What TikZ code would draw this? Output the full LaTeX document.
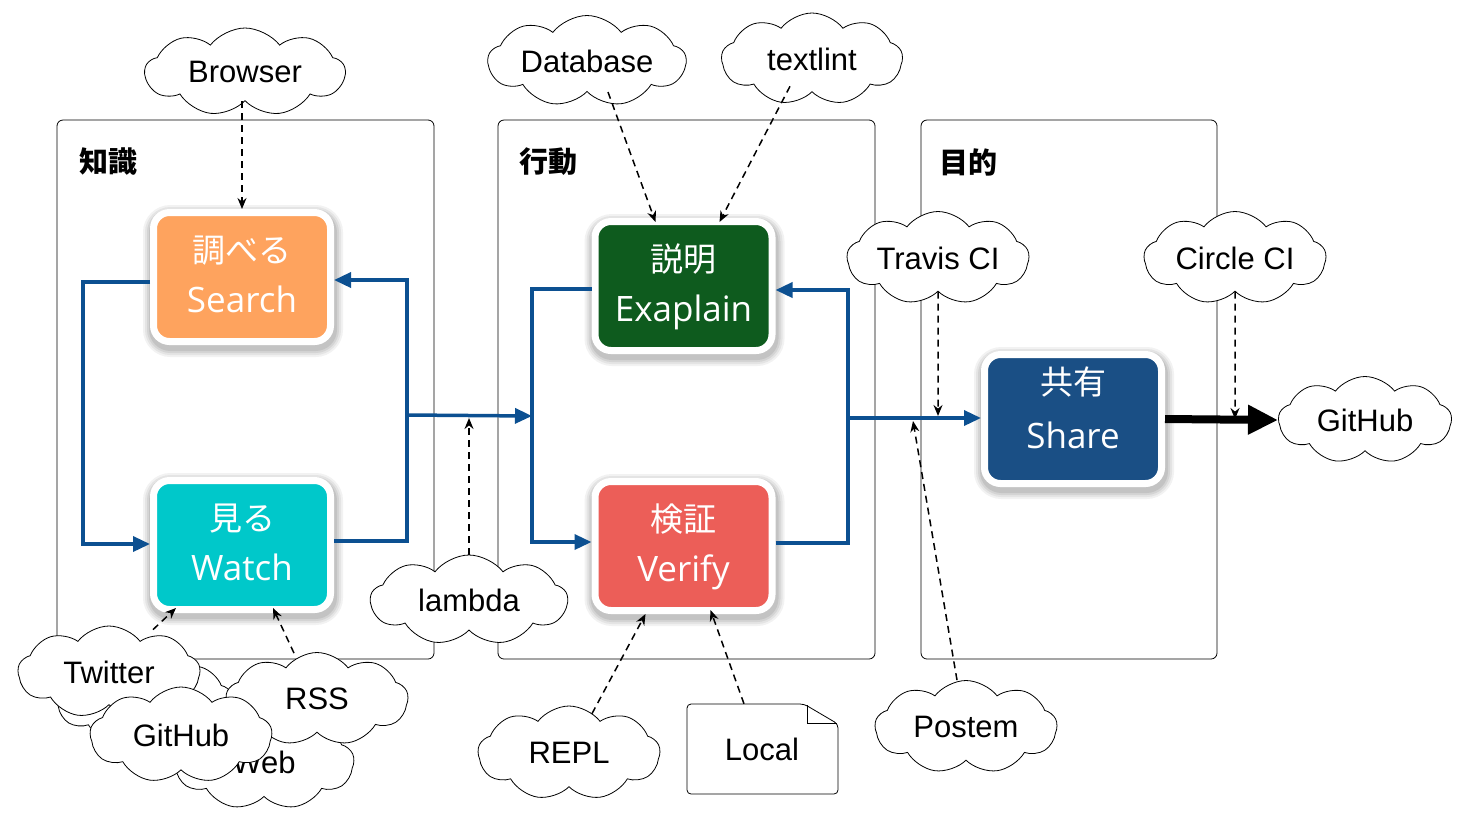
\documentclass[tikz,border=0pt]{standalone}
\usepackage{fontspec}
\setmainfont{Liberation Sans}
\newfontfamily\jp{Noto Sans CJK JP}
\newfontfamily\osans{Open Sans}
\usetikzlibrary{shapes.symbols,arrows.meta,calc}
\definecolor{flowblue}{RGB}{12,80,145}
\definecolor{cOrange}{RGB}{254,163,94}
\definecolor{cCyan}{RGB}{0,200,202}
\definecolor{cGreen}{RGB}{14,91,30}
\definecolor{cRed}{RGB}{236,94,88}
\definecolor{cShare}{RGB}{26,79,133}
\tikzset{
  container/.style={draw, line width=0.8pt, rounded corners=6pt, minimum width=#1, minimum height=539pt, inner sep=0pt},
  title/.style={font=\jp\bfseries\fontsize{29}{34}\selectfont},
  shade/.style={preaction={draw=black, draw opacity=#1, line width=#1*0+1pt}},
  proc/.style={draw=white, line width=7pt, rounded corners=16pt, minimum width=177pt, minimum height=129pt,
    text=white, align=center, inner sep=0pt, font=\fontsize{34}{50}\selectfont, text depth=6pt,
    preaction={draw=black, draw opacity=0.05, line width=23pt, transform canvas={yshift=-4pt, xshift=1pt}},
    preaction={draw=black, draw opacity=0.06, line width=19pt, transform canvas={yshift=-4pt, xshift=1pt}},
    preaction={draw=black, draw opacity=0.07, line width=15pt, transform canvas={yshift=-4pt, xshift=1pt}},
    preaction={draw=black, draw opacity=0.08, line width=11pt, transform canvas={yshift=-4pt, xshift=1pt}}},
  cl/.style={cloud, cloud puffs=9, cloud puff arc=105, cloud ignores aspect, draw, fill=white, line width=0.8pt,
    font=\fontsize{31}{36}\selectfont, inner sep=0pt},
  flow/.style={draw=flowblue, line width=3.5pt, -{Triangle[length=17pt,width=15pt]}},
  dep/.style={line width=1.5pt, dash pattern=on 7pt off 5pt, -{Stealth[length=11pt,width=9pt]}},
}
\newcommand{\jl}[2]{{\jp\fontsize{33}{50}\selectfont #1}\\{\osans\fontsize{35}{50}\selectfont #2}}
\begin{document}
\begin{tikzpicture}[x=1pt,y=-1pt]
\useasboundingbox (0,0) rectangle (1471,823);
% containers
\node[container=377pt] (kbox) at (245.5,389.5) {};
\node[container=377pt] (abox) at (686.5,389.5) {};
\node[container=296pt] (gbox) at (1069,389.5) {};
\node[title] (ktitle) at (108,162) {知識};
\node[title] (atitle) at (548,162) {行動};
\node[title] (gtitle) at (968,162) {目的};

% process nodes
\node[proc, fill=cOrange] (search) at (242,277) {\jl{調べる}{Search}};
\node[proc, fill=cCyan] (watch) at (242,545) {\jl{見る}{Watch}};
\node[proc, fill=cGreen] (explain) at (683.5,286) {\jl{説明}{Exaplain}};
\node[proc, fill=cRed] (verify) at (683.5,546) {\jl{検証}{Verify}};
\node[proc, fill=cShare, text depth=22pt] (share) at (1073,419) {{\jp\fontsize{33}{50}\selectfont 共有}\\[4pt]{\osans\fontsize{35}{50}\selectfont Share}};

% flow connectors
\coordinate (c1) at (83,282);
\coordinate (c2) at (83,544);
\coordinate (c3) at (407,541);
\coordinate (c4) at (407,280);
\coordinate (c5) at (407,415);
\coordinate (c7) at (532,416);
\coordinate (d1) at (532,289);
\coordinate (d2) at (532,542);
\coordinate (d3) at (848,543);
\coordinate (d4) at (848,290);
\coordinate (d5) at (848,418);
\draw[flow] (search.west |- c1) -- (c1) -- (c2) -- (watch.west |- c2);
\draw[flow] (watch.east |- c3) -- (c3) -- (c4) -- (search.east |- c4);
\draw[flow] (c5) -- (c7);
\draw[flow] (explain.west |- d1) -- (d1) -- (d2) -- (verify.west |- d2);
\draw[flow] (verify.east |- d3) -- (d3) -- (d4) -- (explain.east |- d4);
\draw[flow] (d5) -- (share.west |- d5);

% clouds
\node[cl, minimum width=200pt, minimum height=88pt] (browser) at (245,72) {Browser};
\node[cl, minimum width=198pt, minimum height=91pt] (database) at (587,61) {Database};
\node[cl, minimum width=181pt, minimum height=92pt] (textlint) at (812,59) {textlint};
\node[cl, minimum width=182pt, minimum height=93pt] (travis) at (938,258) {Travis CI};
\node[cl, minimum width=182pt, minimum height=93pt] (circle) at (1235,258) {Circle CI};
\node[cl, minimum width=173pt, minimum height=87pt] (github2) at (1365,420) {GitHub};
\node[cl, minimum width=197pt, minimum height=90pt] (lambda) at (469,600) {lambda};
\node[cl, minimum width=182pt, minimum height=94pt] (repl) at (569,753) {REPL};
\node[cl, minimum width=182pt, minimum height=93pt] (postem) at (966,727) {Postem};
\node[cl, minimum width=176pt, minimum height=88pt] (hidden) at (145,701) {};
\node[cl, minimum width=180pt, minimum height=95pt] (web) at (264,762) {Web};
\node[cl, minimum width=182pt, minimum height=92pt] (twitter) at (109,672) {Twitter};
\node[cl, minimum width=182pt, minimum height=93pt] (rss) at (317,699) {RSS};
\node[cl, minimum width=182pt, minimum height=96pt] (github1) at (181,735) {GitHub};

% local document
\draw[line width=0.8pt, fill=white, rounded corners=4pt] (687,704) -- (804,704) -- (838,724) -- (838,794) -- (687,794) -- cycle;
\draw[line width=0.6pt] (807,705) -- (807,723) -- (837,723);
\node[minimum width=151pt, minimum height=90pt, inner sep=0pt, font=\fontsize{31}{36}\selectfont] (local) at (762,749) {Local};

% thick output
\draw[line width=8pt, -{Triangle[length=30pt,width=28pt]}] (share.east) -- (github2.west);

% dependency arrows
\coordinate (t1) at (938,416);
\coordinate (t2) at (1235,419);
\coordinate (t3) at (469,418);
\coordinate (t4) at (913,421);
\draw[dep] (browser.south -| search.north) -- (search.north);
\draw[dep] ($(database.south)+(21,0)$) -- ($(explain.north)+(-28,4)$);
\draw[dep] ($(textlint.south)+(-22,-6)$) -- ($(explain.north)+(36,4)$);
\draw[dep] (travis.south) -- (t1);
\draw[dep] (circle.south) -- (t2);
\draw[dep] (lambda.north) -- (t3);
\draw[dep] ($(postem.north)+(-9,0)$) -- (t4);
\draw[dep] ($(twitter.north)+(44,4)$) -- ($(watch.south)+(-66,-5)$);
\draw[dep] ($(rss.north)+(-23,1)$) -- ($(watch.south)+(31,-5)$);
\draw[dep] ($(repl.north)+(23,8)$) -- ($(verify.south)+(-38,0)$);
\draw[dep] (local.north -| 744,0) -- ($(verify.south)+(27,-4)$);
\end{tikzpicture}
\end{document}
